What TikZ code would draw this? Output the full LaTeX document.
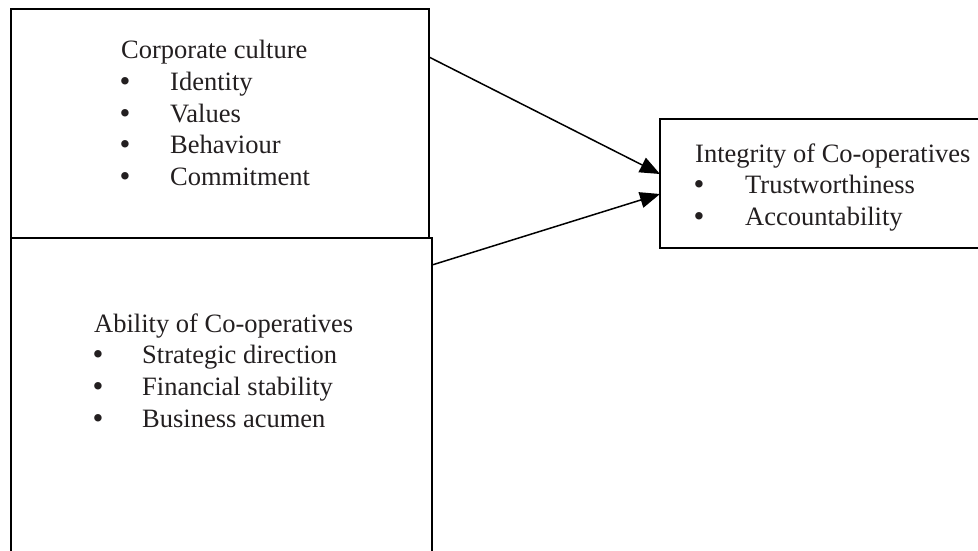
\documentclass[tikz,border=0pt]{standalone}
\usepackage{fontspec}
\setmainfont{Liberation Serif}
\usetikzlibrary{arrows.meta}
\definecolor{ink}{HTML}{231F20}
\begin{document}
\begin{tikzpicture}[x=1pt,y=-1pt,
  box/.style={draw=black,line width=1.5pt,inner sep=0pt,outer sep=0pt,anchor=north west},
  txt/.style={anchor=base west,inner sep=0pt,font=\fontsize{26.5}{31}\selectfont,text=ink},
  bul/.style={anchor=base,inner sep=0pt,font=\fontsize{31}{31}\selectfont,text=ink},
  conn/.style={line width=1.5pt,-{Triangle[length=20pt,width=16pt]}}]
\useasboundingbox (0,0) rectangle (978,550);
\fill[white] (0,0) rectangle (978,550);
\begin{scope}
\clip (0,0) rectangle (978,550);
\node[box,minimum width=418pt,minimum height=229pt] (culture) at (11,9) {};
\node[box,minimum width=421pt,minimum height=340pt] (ability) at (11,238) {};
\node[box,minimum width=340pt,minimum height=129pt] (integ) at (660,119) {};
\end{scope}

% Corporate culture
\node[txt] (t1) at (121,58) {Corporate culture};
\node[bul] (b11) at (125,91) {•};
\node[txt] (i11) at (170,90) {Identity};
\node[bul] (b12) at (125,123) {•};
\node[txt] (i12) at (170,122) {Values};
\node[bul] (b13) at (125,154) {•};
\node[txt] (i13) at (170,153) {Behaviour};
\node[bul] (b14) at (125,186) {•};
\node[txt] (i14) at (170,185) {Commitment};

% Ability
\node[txt] (t2) at (94,332) {Ability of Co-operatives};
\node[bul] (b21) at (98,364) {•};
\node[txt] (i21) at (142,363) {Strategic direction};
\node[bul] (b22) at (98,396) {•};
\node[txt] (i22) at (142,395) {Financial stability};
\node[bul] (b23) at (98,428) {•};
\node[txt] (i23) at (142,427) {Business acumen};

% Integrity
\node[txt] (t3) at (695,162) {Integrity of Co-operatives};
\node[bul] (b31) at (699,194) {•};
\node[txt] (i31) at (745,193) {Trustworthiness};
\node[bul] (b32) at (699,226) {•};
\node[txt] (i32) at (745,225) {Accountability};

\coordinate (a1s) at ([yshift=-48pt]culture.north east);
\coordinate (a1e) at ([yshift=-55pt]integ.north west);
\coordinate (a2s) at ([yshift=-27pt]ability.north east);
\coordinate (a2e) at ([yshift=-75pt]integ.north west);
\draw[conn] (a1s) -- (a1e);
\draw[conn] (a2s) -- (a2e);
\end{tikzpicture}
\end{document}
